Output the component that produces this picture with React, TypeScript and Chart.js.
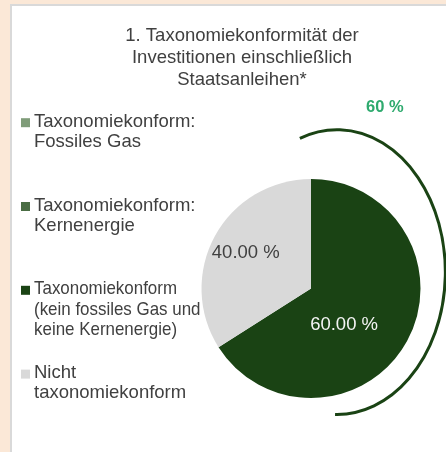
import React, { useEffect, useRef } from "react";
import { Chart, registerables } from "chart.js";

Chart.register(...registerables);

const titleLines = ["1. Taxonomiekonformität der", "Investitionen einschließlich", "Staatsanleihen*"];
const categories = [
  ["Taxonomiekonform:", "Fossiles Gas"],
  ["Taxonomiekonform:", "Kernenergie"],
  ["Taxonomiekonform", "(kein fossiles Gas und", "keine Kernenergie)"],
  ["Nicht", "taxonomiekonform"],
];
const sliceValues = [0, 0, 66, 34];
const sliceLabels = ["", "", "60.00 %", "40.00 %"];
const sliceColors = ["#7f9c79", "#4a6d44", "#1a4314", "#d9d9d9"];
const bracketLabel = "60 %";

const FONT = "'Liberation Sans', Arial, sans-serif";
const TEXT = "#404040";

const overlay = {
  id: "overlay",
  afterDatasetsDraw(chart: any) {
    const ctx = chart.ctx as CanvasRenderingContext2D;
    const meta = chart.getDatasetMeta(0);
    const first = meta.data[0];
    const { x, y, outerRadius: r } = first.getProps(["x", "y", "outerRadius"], true);
    ctx.save();

    // title
    ctx.fillStyle = TEXT;
    ctx.font = `18.5px ${FONT}`;
    ctx.textAlign = "center";
    ctx.textBaseline = "middle";
    titleLines.forEach((t, i) => ctx.fillText(t, 230, 30 + i * 22));

    // legend
    ctx.textAlign = "left";
    const squeeze = [1, 1, 0.915, 1];
    categories.forEach((lines, i) => {
      const top = 115.7 + i * 83.8;
      ctx.fillStyle = sliceColors[i];
      ctx.fillRect(9, top - 3.5, 9, 9);
      ctx.fillStyle = TEXT;
      lines.forEach((ln, j) => {
        const w = ctx.measureText(ln).width * squeeze[i];
        ctx.fillText(ln, 22, top + j * 20.3, w);
      });
    });

    // slice labels
    const place: Record<number, [number, number, string]> = {
      2: [0.45, 19, "#f4f4f4"],
      3: [0.68, 0, TEXT],
    };
    meta.data.forEach((arc: any, i: number) => {
      const txt = sliceLabels[i];
      if (!txt || !place[i]) return;
      const p = arc.getProps(["startAngle", "endAngle"], true);
      const [f, off, col] = place[i];
      const a = (p.startAngle + p.endAngle) / 2 + (off * Math.PI) / 180;
      ctx.fillStyle = col;
      ctx.textAlign = "center";
      ctx.fillText(txt, x + Math.cos(a) * r * f, y + Math.sin(a) * r * f);
    });

    // bracket arc
    ctx.strokeStyle = sliceColors[2];
    ctx.lineWidth = 3;
    ctx.beginPath();
    ctx.ellipse(x + 0.237 * r, y - 0.15 * r, 0.99 * r, 1.3 * r, 0, (-110 * Math.PI) / 180, (91 * Math.PI) / 180);
    ctx.stroke();

    ctx.fillStyle = "#2eaa6e";
    ctx.font = `bold 16.5px ${FONT}`;
    ctx.textAlign = "center";
    ctx.fillText(bracketLabel, x + 0.675 * r, y - 1.655 * r);
    ctx.restore();
  },
};

export default function App() {
  const ref = useRef<HTMLCanvasElement | null>(null);
  useEffect(() => {
    if (!ref.current) return;
    const chart = new Chart(ref.current, {
      type: "pie",
      data: {
        labels: categories.map((c) => c.join(" ")),
        datasets: [
          {
            data: sliceValues,
            backgroundColor: sliceColors,
            borderWidth: 0,
          },
        ],
      },
      options: {
        responsive: false,
        animation: false,
        devicePixelRatio: 1,
        events: [],
        layout: { padding: { left: 189.5, right: 25.5, top: 173, bottom: 54 } },
        plugins: {
          legend: { display: false },
          title: { display: false },
          tooltip: { enabled: false },
        },
      },
      plugins: [overlay],
    });
    return () => chart.destroy();
  }, []);

  return (
    <div style={{ position: "fixed", left: 0, top: 0, width: 446, height: 452, background: "#fbe8d7", overflow: "hidden" }}>
      <div
        style={{
          position: "absolute",
          left: 10,
          top: 4,
          width: 446,
          height: 460,
          background: "#ffffff",
          borderLeft: "2px solid #d9d9d9",
          borderTop: "2px solid #d9d9d9",
        }}
      >
        <canvas ref={ref} width={434} height={446} style={{ display: "block" }} />
      </div>
    </div>
  );
}
